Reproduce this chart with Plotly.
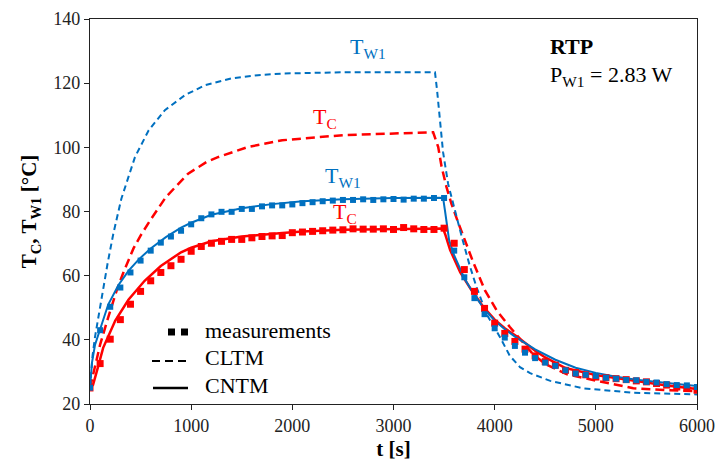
import plotly.graph_objects as go

# ---- measurement data (every 100 s) ----
t_meas = list(range(0, 6001, 100))
tw1_meas = [25.1, 43.0, 50.3, 56.3, 61.0, 64.7, 67.8, 70.3, 72.2, 74.0,
            76.0, 77.9, 79.1, 79.9, 79.9, 80.8, 80.8, 81.6, 81.9, 81.9,
            82.2, 82.6, 82.9, 83.2, 83.4, 83.6, 83.6, 83.8, 83.6, 83.8,
            83.9, 83.7, 84.0, 84.0, 84.2, 84.2,
            67.8, 59.5, 53.0, 48.0, 43.6, 40.7, 38.1, 36.0, 34.3, 32.9,
            31.9, 30.5, 29.5, 29.1, 28.75, 28.2, 27.9, 27.5, 27.4, 26.9,
            26.7, 26.2, 25.9, 25.8, 25.3]
tc_meas = [25.0, 32.6, 40.2, 46.3, 51.1, 55.1, 58.4, 61.0, 63.1, 65.1,
           67.6, 69.1, 70.1, 70.7, 71.3, 71.3, 71.8, 72.2, 72.4, 72.5,
           73.4, 73.6, 73.8, 74.0, 74.2, 74.3, 74.6, 74.5, 74.5, 74.6,
           74.4, 75.0, 74.6, 74.4, 74.4, 74.8,
           70.1, 61.9, 55.1, 49.8, 45.2, 42.0, 39.5, 37.1, 35.0, 33.2,
           32.1, 30.5, 29.8, 29.1, 28.4, 28.2, 27.9, 27.6, 27.2, 26.9,
           26.4, 25.9, 25.3, 24.9, 24.3]

# ---- CNTM (solid) ----
t_cntm_w1 = [0, 20, 50, 100, 180, 280, 380, 480, 600, 750, 900, 1000, 1200, 1500,
             1800, 2100, 2500, 3000, 3490, 3510, 3530, 3550, 3600, 3700, 3800,
             3900, 4000, 4100, 4200, 4400, 4600, 4800, 5000, 5200, 5400, 5600,
             5800, 6000]
tw1_cntm = [25, 33, 38.5, 43.5, 51, 57, 61.5, 65, 68.5, 72, 75, 76.5, 79, 81,
            82.3, 83.2, 83.8, 84.2, 84.3, 80, 75, 71, 66.3, 59.2, 54,
            49.5, 46, 43.3, 41, 37, 33.8, 31.3, 29.7, 28.5, 27.6, 26.8,
            26.2, 25.6]
t_cntm_c = [0, 30, 70, 130, 250, 380, 540, 700, 900, 1000, 1200, 1500, 1900,
            2100, 2500, 3000, 3490, 3510, 3530, 3560, 3600, 3660, 3770, 3890,
            4000, 4100, 4220, 4400, 4500, 4700, 5000, 5370, 5700, 6000]
tc_cntm = [25, 26, 30.5, 37.5, 46, 52.5, 58.4, 63, 67.3, 68.7, 70.7, 72.2, 73.3,
           73.8, 74.3, 74.6, 74.7, 73, 71, 68, 65.2, 61, 55.5, 50.2,
           46.3, 43.6, 41, 36.6, 34.5, 31.2, 29, 27.2, 25.8, 24.7]

# ---- CLTM (dashed) ----
t_cltm_w1 = [0, 25, 50, 100, 175, 230, 310, 445, 580, 740, 940, 1140, 1400, 1660,
             1900, 2500, 3000, 3410, 3430, 3460, 3490, 3540, 3600, 3680, 3750,
             3820, 3920, 4050, 4150, 4250, 4350, 4550, 4875, 5370, 6000]
tw1_cltm = [25, 35, 41, 50.5, 64, 73, 84, 97, 105.3, 111.6, 116.3, 119.4, 121.5,
            122.5, 123, 123.4, 123.5, 123.4, 118, 108.5, 98.5, 88.6, 81, 71.5,
            63.5, 56.5, 48, 41, 35, 31.5, 29.6, 27.2, 24.9, 23.5, 23]
t_cltm_c = [0, 50, 100, 180, 265, 330, 400, 430, 500, 600, 750, 970, 1150, 1270,
            1560, 1900, 2500, 3000, 3392, 3442, 3475, 3524, 3573, 3640, 3705,
            3788, 3903, 4019, 4150, 4250, 4380, 4500, 4710, 5000, 5370, 5700, 6000]
tc_cltm = [25, 32, 38.5, 47, 55.5, 61, 66, 68.5, 72.5, 77.5, 84.5, 91.8, 95.4, 97,
           100.1, 102.2, 103.8, 104.4, 104.7, 100.1, 94, 87.6, 82.4, 76.5, 71,
           64.2, 55.5, 49.2, 44, 40.3, 35.5, 32.5, 29.3, 27.3, 24.9, 24.3, 24.0]

BLUE = "#0070C0"
RED = "#FF0000"
FONT = "Times New Roman"

fig = go.Figure()
fig.add_trace(go.Scatter(x=t_cltm_c, y=tc_cltm, mode="lines",
                         line=dict(color=RED, width=2.5, dash="9px,5px")))
fig.add_trace(go.Scatter(x=t_cltm_w1, y=tw1_cltm, mode="lines",
                         line=dict(color=BLUE, width=2, dash="6px,4px")))
fig.add_trace(go.Scatter(x=t_cntm_c, y=tc_cntm, mode="lines",
                         line=dict(color=RED, width=2.5)))
fig.add_trace(go.Scatter(x=t_cntm_w1, y=tw1_cntm, mode="lines",
                         line=dict(color=BLUE, width=2)))
fig.add_trace(go.Scatter(x=t_meas, y=tc_meas, mode="markers",
                         marker=dict(symbol="square", size=7, color=RED)))
fig.add_trace(go.Scatter(x=t_meas, y=tw1_meas, mode="markers",
                         marker=dict(symbol="square", size=6, color=BLUE)))

ann = [
    dict(x=2750, y=131, text="T<sub>W1</sub>", color=BLUE),
    dict(x=2323, y=109, text="T<sub>C</sub>", color=RED),
    dict(x=2500, y=90.6, text="T<sub>W1</sub>", color=BLUE),
    dict(x=2520, y=79.4, text="T<sub>C</sub>", color=RED),
    dict(x=4530, y=131.3, text="<b>RTP</b>", xanchor="left", color="black"),
    dict(x=4530, y=122.3, text="P<sub>W1</sub> = 2.83 W", xanchor="left", color="black"),
]
annotations = []
for a in ann:
    annotations.append(dict(xref="x", yref="y", showarrow=False,
                            xanchor=a.get("xanchor", "center"), yanchor="middle",
                            x=a["x"], y=a["y"], text=a["text"],
                            font=dict(family=FONT, size=22, color=a["color"])))

# manual legend (paper coordinates)
def px(xp):
    return (xp - 90) / 607.0

def py(yp):
    return (404 - yp) / 385.0

legend_items = [("measurements", 330), ("CLTM", 357), ("CNTM", 385)]
for label, yy in legend_items:
    annotations.append(dict(xref="paper", yref="paper", x=px(203), y=py(yy),
                            xanchor="left", yanchor="middle", showarrow=False,
                            text=label, font=dict(family=FONT, size=22, color="black")))

shapes = [
    dict(type="rect", xref="paper", yref="paper", x0=px(168), x1=px(175),
         y0=py(335.5), y1=py(328.5), fillcolor="black", line=dict(width=0)),
    dict(type="rect", xref="paper", yref="paper", x0=px(181), x1=px(188),
         y0=py(335.5), y1=py(328.5), fillcolor="black", line=dict(width=0)),
    dict(type="line", xref="paper", yref="paper", x0=px(152), x1=px(189),
         y0=py(361), y1=py(361), line=dict(color="black", width=2, dash="8px,5px")),
    dict(type="line", xref="paper", yref="paper", x0=px(153), x1=px(188),
         y0=py(388), y1=py(388), line=dict(color="black", width=2.5)),
]

axis_common = dict(showline=True, linecolor="#222222", linewidth=1.3, mirror=True,
                   ticks="outside", ticklen=5, tickcolor="#222222", showgrid=False,
                   zeroline=False, automargin=False,
                   tickfont=dict(family=FONT, size=18, color="#222222"))

fig.update_layout(
    width=715, height=464,
    margin=dict(l=90, r=18, t=19, b=60),
    paper_bgcolor="white", plot_bgcolor="white",
    showlegend=False,
    font=dict(family=FONT),
    xaxis=dict(range=[0, 6000], dtick=1000, tick0=0, ticklabeloverflow="allow",
               title=dict(text="<b>t [s]</b>", font=dict(family=FONT, size=21, color="black"),
                          standoff=6),
               **axis_common),
    yaxis=dict(range=[20, 140], dtick=20, tick0=20,
               title=dict(text="<b>T<sub>C</sub>, T<sub>W1</sub> [°C]</b>",
                          font=dict(family=FONT, size=21, color="black"), standoff=10),
               **axis_common),
    annotations=annotations,
    shapes=shapes,
)

fig.write_html("out.html")
